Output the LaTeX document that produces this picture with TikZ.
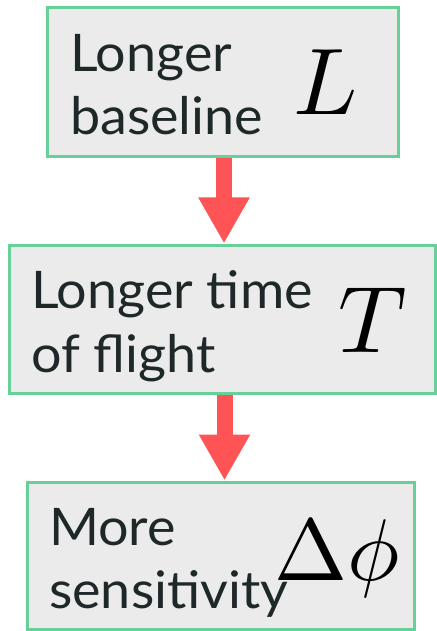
\documentclass[tikz,border=0pt]{standalone}
\usepackage{graphicx}
\usepackage{fontspec}
\setmainfont{Lato}[FakeStretch=1.04]
\usetikzlibrary{arrows.meta,calc}
\definecolor{boxfill}{HTML}{EBEBEB}
\definecolor{boxline}{HTML}{66D098}
\definecolor{arrowred}{HTML}{FF5456}
\definecolor{inktext}{HTML}{1F2829}
\newcommand{\bigsym}[2][9.5]{\scalebox{#1}{$#2$}}
\begin{document}
\begin{tikzpicture}[x=1bp,y=-1bp,
  stagebox/.style={draw=boxline,fill=boxfill,line width=3bp,inner sep=0pt},
  label/.style={anchor=base west,inner sep=0pt,text=inktext,font=\fontsize{52}{63}\selectfont},
  sym/.style={anchor=base west,inner sep=0pt},
  flow/.style={draw=arrowred,line width=16bp,-{Triangle[width=48bp,length=46bp]}}]
\useasboundingbox (0,0) rectangle (437,631);
% the three stages
\node[stagebox,minimum width=350bp,minimum height=149bp] (b1) at (223,82) {};
\node[stagebox,minimum width=426bp,minimum height=148bp] (b2) at (222.5,319) {};
\node[stagebox,minimum width=387bp,minimum height=147bp] (b3) at (221,555.5) {};
% connectors between stages
\draw[flow] ($(b1.south)+(1,0)$) coordinate (a1) -- (a1 |- b2.north);
\draw[flow] ($(b2.south)+(2,0)$) coordinate (a2) -- (a2 |- b3.north);
% stage texts
\node[label] (t1a) at (70,72) {Longer};
\node[label] (t1b) at (70,135) {baseline};
\node[sym] (s1) at (293,115) {\bigsym{L}};
\node[label] (t2a) at (31,308) {Longer time};
\node[label] (t2b) at (31,372) {of flight};
\node[sym] (s2) at (338,352) {\bigsym{T}};
\node[label] (t3a) at (49,545) {More};
\node[label] (t3b) at (49,608) {sensitivity};
\node[sym] (s3) at (274,580) {\bigsym[8.8]{\Delta\phi}};
\end{tikzpicture}
\end{document}
